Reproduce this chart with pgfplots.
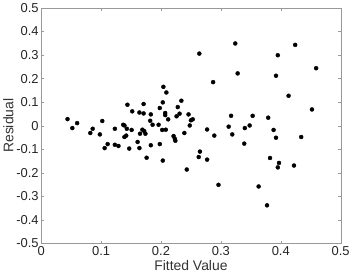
\documentclass[border=0pt]{standalone}
\usepackage{pgfplots}
\pgfplotsset{compat=1.18}
\usepackage{fontspec}
\setmainfont{Liberation Sans}
\begin{document}
\begin{tikzpicture}
\begin{axis}[
  scale only axis,
  width=300bp, height=236bp,
  xmin=0, xmax=0.5, ymin=-0.5, ymax=0.5,
  xtick={0,0.1,...,0.5}, ytick={-0.5,-0.4,...,0.5},
  xticklabels={0,0.1,0.2,0.3,0.4,0.5},
  yticklabels={-0.5,-0.4,-0.3,-0.2,-0.1,0,0.1,0.2,0.3,0.4,0.5},
  tick align=inside,
  tick pos=both,
  major tick length=3bp,
  axis line style={gray!80},
  tick style={gray!80},
  ticklabel style={font=\fontsize{13}{15}\selectfont, text=black!85},
  label style={font=\fontsize{14}{16}\selectfont, text=black!80},
  xlabel={Fitted Value}, ylabel={Residual},
  xlabel style={yshift=2bp},
  ylabel style={yshift=-4bp},
  xticklabel style={yshift=1bp},
  yticklabel style={xshift=1bp},
  /pgf/number format/assume math mode=true,
]
\addplot[only marks, mark=*, mark size=2bp, black] coordinates {
(0.044,0.028) (0.052,-0.010) (0.060,0.011) (0.082,-0.031) (0.086,-0.013)
(0.098,-0.037) (0.102,0.020) (0.106,-0.095) (0.111,-0.078) (0.123,-0.013)
(0.123,-0.081) (0.129,-0.086) (0.137,0.004) (0.139,0.001) (0.139,-0.048)
(0.142,-0.042) (0.144,0.089) (0.143,-0.013) (0.147,-0.097) (0.152,0.061)
(0.151,-0.018) (0.161,-0.069) (0.164,0.056) (0.165,-0.034) (0.164,-0.095)
(0.169,-0.017) (0.171,0.092) (0.171,0.052) (0.172,-0.023) (0.174,-0.034)
(0.176,-0.136) (0.182,0.021) (0.183,0.048) (0.183,-0.083) (0.186,0.004)
(0.196,0.004) (0.198,0.075) (0.198,-0.078) (0.202,-0.018) (0.203,0.099)
(0.203,-0.148) (0.204,0.165) (0.207,0.054) (0.207,0.045) (0.208,-0.017)
(0.209,0.141) (0.212,0.027) (0.221,-0.044) (0.223,-0.055) (0.224,-0.064)
(0.226,0.040) (0.228,0.079) (0.231,0.051) (0.234,0.106) (0.239,-0.031)
(0.243,-0.186) (0.246,0.048) (0.248,0.001) (0.250,0.023) (0.253,0.027)
(0.263,-0.133) (0.264,0.306) (0.265,-0.110) (0.277,-0.016) (0.277,-0.144)
(0.287,0.185) (0.289,-0.042) (0.296,-0.251) (0.313,-0.004) (0.317,0.042)
(0.319,-0.037) (0.324,0.349) (0.328,0.222) (0.339,-0.076) (0.340,-0.010)
(0.348,0.001) (0.353,0.042) (0.363,-0.258) (0.377,-0.338) (0.379,0.034)
(0.382,-0.137) (0.388,-0.018) (0.392,-0.051) (0.392,0.212) (0.395,-0.177)
(0.395,0.299) (0.397,-0.158) (0.413,0.127) (0.422,-0.169) (0.424,0.343)
(0.434,-0.048) (0.452,0.069) (0.459,0.244)
};
\end{axis}
\end{tikzpicture}
\end{document}
